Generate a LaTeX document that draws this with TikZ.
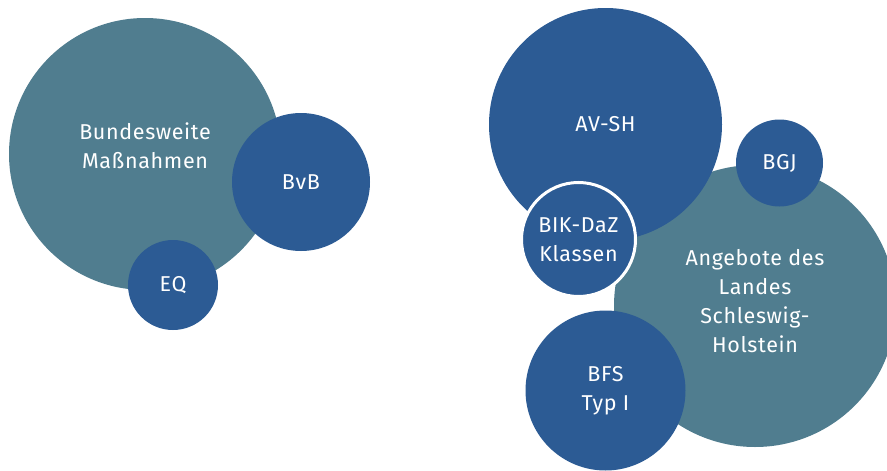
\documentclass[tikz,border=0pt]{standalone}
\usepackage{fontspec}
\setmainfont{Fira Sans}[LetterSpace=3]
\usetikzlibrary{backgrounds}
\definecolor{tealgrau}{RGB}{80,125,143}
\definecolor{dunkelblau}{RGB}{44,91,148}

\begin{document}
\begin{tikzpicture}[
    % 以像素為單位（y 軸向下）
    x=1pt, y=-1pt,
    % --- 定義節點樣式 ---
    % 基本圓形樣式
    bubble/.style={
        circle,
        inner sep=0pt,
        text=white,
        align=center,
        font=\fontsize{21.5}{29}\selectfont
    },
    % 青灰色圓形
    tealbubble/.style={bubble, fill=tealgrau},
    % 深藍色圓形
    bluebubble/.style={bubble, fill=dunkelblau},
    % 白色外框
    ringed/.style={draw=white, line width=3pt}
]

% 圖片範圍
\clip (0,0) rectangle (887,471);
\fill[white] (0,0) rectangle (887,471);

% --- 左側群組 ---
\node[tealbubble, minimum size=272pt] (bund) at (145,154) {Bundesweite\\Maßnahmen\\[-12pt]};
\node[bluebubble, minimum size=138pt] (bvb) at (301,182) {BvB};
\node[bluebubble, minimum size=90pt] (eq) at (173,285) {EQ};

% --- 右側群組 ---
\node[tealbubble, minimum size=282pt] (land) at (755,306) {Angebote des\\Landes\\Schleswig-\\Holstein\\[-19pt]};
\node[bluebubble, minimum size=233pt] (avsh) at (605.5,124.5) {AV-SH};
\node[bluebubble, minimum size=87pt] (bgj) at (779.5,163) {BGJ};
\node[bluebubble, ringed, minimum size=114pt] (bikdaz) at (578.5,239.5) {BIK-DaZ\\Klassen};
\node[bluebubble, minimum size=160pt] (bfs) at (605.5,390.5) {BFS\\Typ I};

\end{tikzpicture}
\end{document}
